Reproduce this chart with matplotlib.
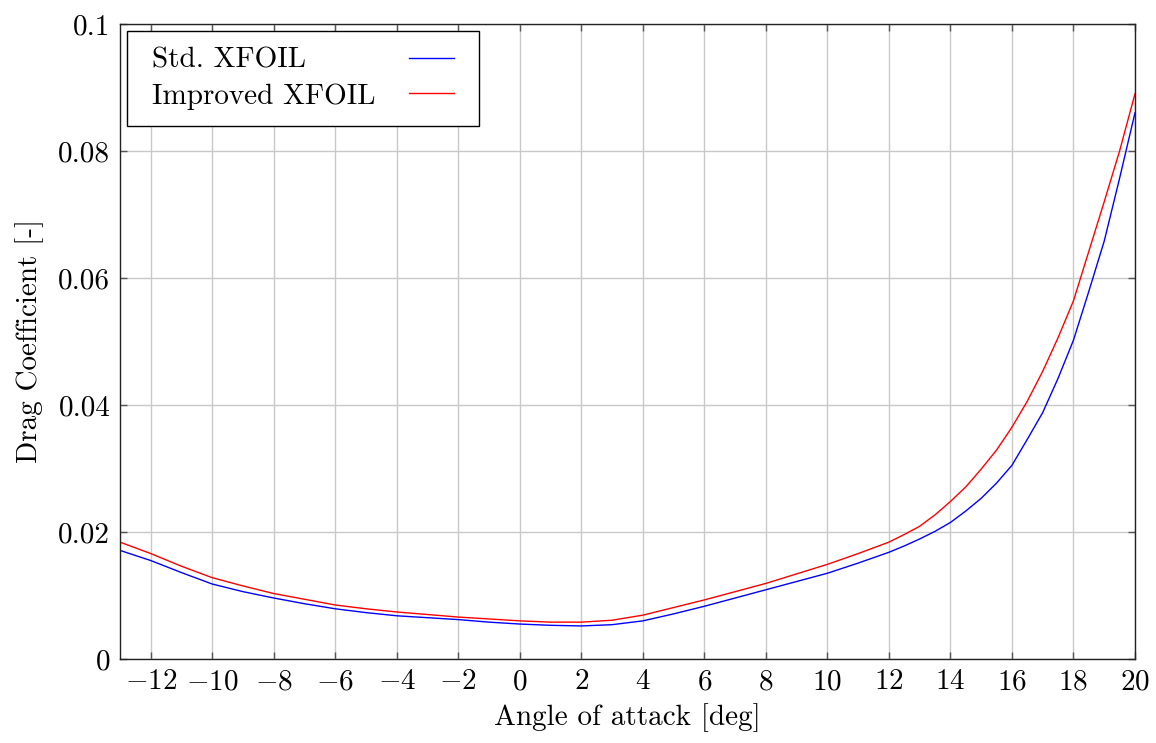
import matplotlib
matplotlib.use("Agg")
import matplotlib.pyplot as plt
from matplotlib.ticker import FuncFormatter, MultipleLocator
from matplotlib.offsetbox import DrawingArea

# === Data ===
alpha = [-13, -12, -11, -10, -9, -8, -7, -6, -5, -4, -3, -2, -1, 0, 1, 2, 3,
         4, 5, 6, 7, 8, 9, 10, 11, 12, 12.5, 13, 13.5, 14, 14.5, 15, 15.5,
         16, 16.5, 17, 17.5, 18, 18.5, 19, 19.5, 20]

cd_std = [0.0171, 0.0155, 0.0136, 0.0118, 0.0106, 0.0096, 0.0087, 0.0079,
          0.0073, 0.0068, 0.0065, 0.0062, 0.0058, 0.0055, 0.0053, 0.0052,
          0.0054, 0.0060, 0.0071, 0.0083, 0.0096, 0.0109, 0.0122, 0.0135,
          0.0151, 0.0168, 0.0178, 0.0189, 0.0201, 0.0215, 0.0233, 0.0253,
          0.0277, 0.0305, 0.0346, 0.0388, 0.0442, 0.0502, 0.0579, 0.0658,
          0.0757, 0.0860]

cd_imp = [0.0184, 0.0166, 0.0146, 0.0128, 0.0115, 0.0103, 0.0094, 0.0085,
          0.0079, 0.0074, 0.0070, 0.0066, 0.0063, 0.0060, 0.0058, 0.0058,
          0.0061, 0.0069, 0.0081, 0.0093, 0.0106, 0.0119, 0.0134, 0.0149,
          0.0166, 0.0184, 0.0196, 0.0209, 0.0227, 0.0248, 0.0271, 0.0299,
          0.0329, 0.0365, 0.0406, 0.0453, 0.0506, 0.0564, 0.0642, 0.0720,
          0.0800, 0.0890]

series_labels = ["Std. XFOIL", "Improved XFOIL"]

# === Style ===
plt.rcParams["font.family"] = "serif"
plt.rcParams["font.serif"] = ["cmr10", "DejaVu Serif"]
plt.rcParams["mathtext.fontset"] = "cm"
plt.rcParams["axes.unicode_minus"] = True

FS = 21

fig = plt.figure(figsize=(11.56, 7.43), dpi=100)
ax = fig.add_axes([0.1038, 0.1131, 0.878, 0.8546])

ax.plot(alpha, cd_std, color="blue", lw=1.0, label=series_labels[0])
ax.plot(alpha, cd_imp, color="red", lw=1.0, label=series_labels[1])

ax.set_xlim(-13, 20)
ax.set_ylim(0, 0.1)
ax.xaxis.set_major_locator(MultipleLocator(2))
ax.yaxis.set_major_locator(MultipleLocator(0.02))
ax.xaxis.set_major_formatter(FuncFormatter(lambda v, p: f"${v:g}$"))
ax.yaxis.set_major_formatter(FuncFormatter(lambda v, p: f"{v:g}"))

ax.grid(True, color="#c8c8c8", lw=1.0)
ax.set_axisbelow(True)
ax.tick_params(direction="in", length=5, width=1, color="#555555",
               top=True, right=True, labelsize=FS, pad=7)
for s in ax.spines.values():
    s.set_color("#222222")
    s.set_linewidth(1.0)

ax.set_xlabel("Angle of attack [deg]", fontsize=FS, labelpad=6)
ax.set_ylabel("Drag Coefficient [-]", fontsize=FS, labelpad=10)

# === Legend: text on the left, sample line on the right ===
leg = ax.legend(loc="upper left", markerfirst=False, fontsize=FS,
                fancybox=False, framealpha=1, edgecolor="black",
                borderaxespad=0.25, handlelength=1.55, handletextpad=1.15,
                borderpad=0.55, labelspacing=0.32)
leg.get_frame().set_linewidth(1.0)

# extra horizontal padding inside the legend box
hb = leg._legend_handle_box
hb.sep = 0
pads = [DrawingArea(6.3, 0), DrawingArea(6.3, 0)]
for p in pads:
    p.set_figure(fig)
hb._children = [pads[0]] + hb._children + [pads[1]]

# left-align the labels and keep the sample lines in one column
fig.canvas.draw()
r = fig.canvas.get_renderer()
col = hb._children[1]
col.align = "left"
items = col.get_children()
widths = [it.get_children()[0].get_bbox(r).width for it in items]
for it, w in zip(items, widths):
    it.sep += (max(widths) - w) / r.points_to_pixels(1.0)

fig.savefig("out.png", dpi=100)
